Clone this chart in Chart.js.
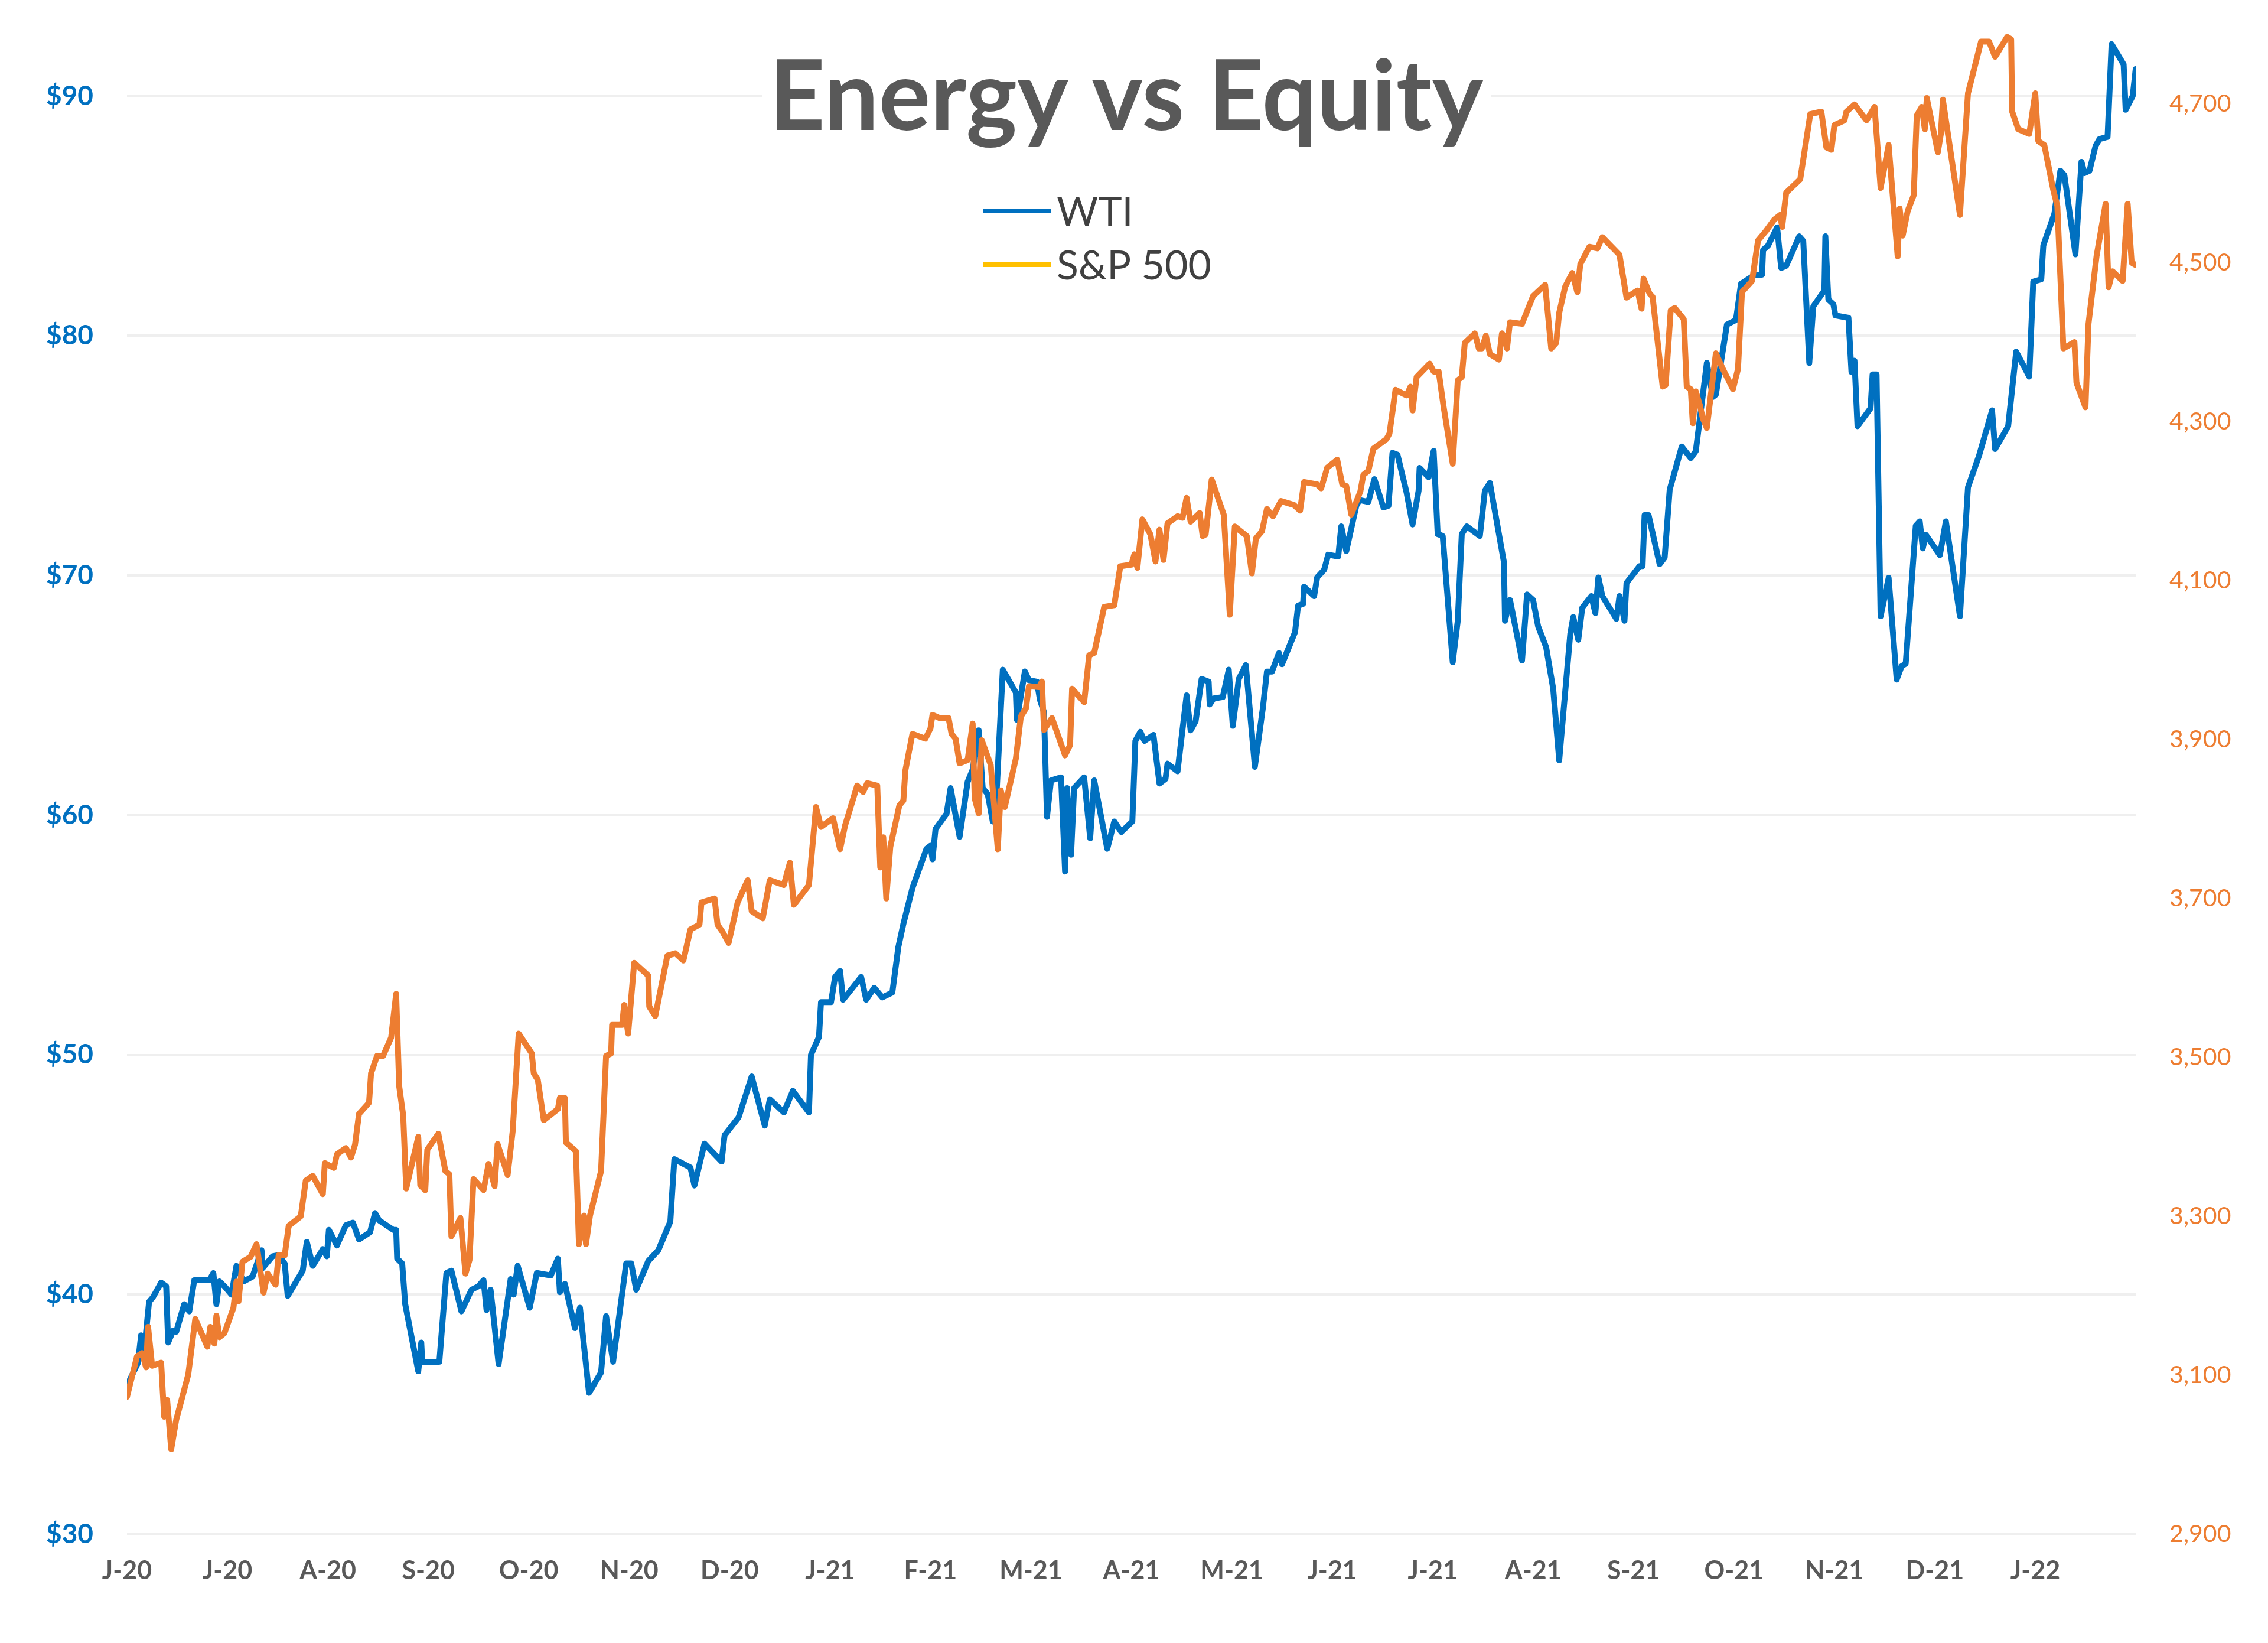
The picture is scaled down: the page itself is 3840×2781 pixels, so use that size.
<!DOCTYPE html>
<html>
<head>
<meta charset="utf-8">
<script src="https://cdn.jsdelivr.net/npm/chart.js@4.4.1/dist/chart.umd.min.js"></script>
<style>
  html, body { margin: 0; padding: 0; background: #ffffff; }
  #chart { position: relative; width: 3840px; height: 2781px; }
</style>
</head>
<body>
<div id="chart"><canvas id="c"></canvas></div>
<script>
// month labels along the bottom (one per month, starting June 2020)
const monthLabels = ['J-20', 'J-20', 'A-20', 'S-20', 'O-20', 'N-20', 'D-20', 'J-21', 'F-21', 'M-21',
                     'A-21', 'M-21', 'J-21', 'J-21', 'A-21', 'S-21', 'O-21', 'N-21', 'D-21', 'J-22'];
const wtiTicks = [30, 40, 50, 60, 70, 80, 90];
const spxTicks = [2900, 3100, 3300, 3500, 3700, 3900, 4100, 4300, 4500, 4700];

// WTI, $ per barrel (month position since Jun-20, price)
const wtiMonth = [0.00, 0.11, 0.14, 0.17, 0.22, 0.26, 0.34, 0.39, 0.41, 0.46, 0.49, 0.57, 0.62, 0.67, 0.82, 0.86, 0.89, 0.92, 0.97, 1.04,
  1.09, 1.16, 1.25, 1.34, 1.35, 1.45, 1.51, 1.57, 1.60, 1.75, 1.79, 1.85, 1.95, 1.99, 2.01, 2.09, 2.18, 2.25, 2.31, 2.42,
  2.47, 2.51, 2.65, 2.68, 2.69, 2.74, 2.77, 2.90, 2.93, 2.94, 3.11, 3.18, 3.23, 3.33, 3.43, 3.50, 3.55, 3.58, 3.62, 3.64,
  3.70, 3.82, 3.85, 3.89, 4.01, 4.08, 4.22, 4.29, 4.31, 4.36, 4.46, 4.51, 4.60, 4.72, 4.77, 4.84, 4.97, 5.02, 5.07, 5.19,
  5.29, 5.41, 5.45, 5.61, 5.65, 5.75, 5.92, 5.95, 6.09, 6.22, 6.35, 6.40, 6.54, 6.63, 6.79, 6.81, 6.89, 6.91, 7.01, 7.05,
  7.10, 7.13, 7.31, 7.36, 7.44, 7.52, 7.62, 7.68, 7.73, 7.82, 7.96, 8.00, 8.02, 8.05, 8.16, 8.20, 8.29, 8.37, 8.42, 8.48,
  8.52, 8.57, 8.62, 8.66, 8.72, 8.85, 8.86, 8.94, 8.98, 9.06, 9.09, 9.13, 9.16, 9.20, 9.30, 9.34, 9.36, 9.40, 9.43, 9.53,
  9.59, 9.63, 9.76, 9.83, 9.90, 10.01, 10.04, 10.09, 10.13, 10.22, 10.28, 10.34, 10.36, 10.46, 10.55, 10.59, 10.64, 10.70, 10.77, 10.78,
  10.82, 10.91, 10.97, 11.01, 11.07, 11.14, 11.23, 11.31, 11.35, 11.40, 11.47, 11.50, 11.63, 11.66, 11.71, 11.72, 11.82, 11.85, 11.92, 11.96,
  12.06, 12.09, 12.14, 12.24, 12.27, 12.36, 12.42, 12.51, 12.56, 12.60, 12.65, 12.74, 12.80, 12.86, 12.87, 12.96, 13.01, 13.05, 13.10, 13.20,
  13.25, 13.29, 13.34, 13.47, 13.52, 13.57, 13.71, 13.72, 13.77, 13.89, 13.94, 14.00, 14.05, 14.13, 14.20, 14.26, 14.37, 14.40, 14.45, 14.49,
  14.58, 14.62, 14.65, 14.69, 14.83, 14.86, 14.91, 14.93, 15.06, 15.09, 15.11, 15.15, 15.26, 15.31, 15.36, 15.48, 15.57, 15.62, 15.73, 15.79,
  15.82, 15.93, 16.02, 16.07, 16.21, 16.28, 16.29, 16.34, 16.43, 16.47, 16.52, 16.65, 16.69, 16.75, 16.79, 16.90, 16.91, 16.94, 16.99, 17.01,
  17.14, 17.17, 17.20, 17.23, 17.36, 17.38, 17.42, 17.46, 17.54, 17.62, 17.67, 17.71, 17.81, 17.85, 17.88, 17.91, 18.05, 18.11, 18.25, 18.33,
  18.44, 18.57, 18.60, 18.73, 18.81, 18.94, 18.98, 19.06, 19.08, 19.19, 19.25, 19.29, 19.40, 19.46, 19.49, 19.54, 19.60, 19.64, 19.72, 19.76,
  19.88, 19.90, 19.97, 20.00];
const wtiPrice = [36.20, 37.16, 38.30, 37.60, 39.70, 39.90, 40.50, 40.35, 38.00, 38.50, 38.45, 39.60, 39.30, 40.60, 40.60, 40.90, 39.60, 40.55, 40.35, 40.00,
  41.20, 40.55, 40.75, 41.85, 41.10, 41.60, 41.65, 41.30, 39.95, 41.00, 42.20, 41.20, 41.90, 41.60, 42.70, 42.05, 42.90, 43.00, 42.30, 42.60,
  43.40, 43.10, 42.70, 42.70, 41.50, 41.30, 39.60, 36.80, 38.00, 37.20, 37.20, 40.90, 41.00, 39.30, 40.20, 40.35, 40.60, 39.35, 40.20, 39.45,
  37.10, 40.65, 40.00, 41.20, 39.45, 40.90, 40.80, 41.50, 40.10, 40.45, 38.60, 39.45, 35.90, 36.75, 39.10, 37.20, 41.30, 41.30, 40.20, 41.40,
  41.85, 43.05, 45.65, 45.30, 44.55, 46.30, 45.55, 46.65, 47.40, 49.10, 47.05, 48.15, 47.60, 48.50, 47.60, 50.00, 50.75, 52.20, 52.20, 53.25,
  53.50, 52.30, 53.25, 52.30, 52.80, 52.40, 52.60, 54.50, 55.46, 56.96, 58.60, 58.73, 58.16, 59.42, 60.06, 61.13, 59.10, 61.39, 61.90, 63.54,
  61.13, 60.88, 59.74, 61.07, 66.07, 65.12, 63.98, 66.00, 65.63, 65.57, 64.81, 64.30, 59.93, 61.45, 61.58, 57.65, 61.13, 58.35, 61.13, 61.58,
  59.04, 61.45, 58.60, 59.74, 59.30, 59.74, 63.10, 63.48, 63.10, 63.35, 61.32, 61.51, 62.15, 61.83, 65.00, 63.54, 63.92, 65.69, 65.57, 64.62,
  64.87, 64.93, 66.07, 63.73, 65.69, 66.26, 62.02, 64.49, 65.99, 65.99, 66.77, 66.30, 67.64, 68.74, 68.82, 69.53, 69.14, 69.92, 70.24, 70.87,
  70.79, 72.05, 71.02, 72.91, 73.15, 73.07, 74.02, 72.84, 72.91, 75.12, 75.04, 73.47, 72.13, 73.54, 74.49, 74.10, 75.20, 71.73, 71.65, 66.38,
  68.11, 71.73, 72.05, 71.65, 73.54, 73.86, 70.55, 68.11, 68.98, 66.46, 69.21, 68.98, 67.88, 67.01, 65.28, 62.29, 67.56, 68.27, 67.32, 68.66,
  69.14, 68.43, 69.92, 69.14, 68.19, 69.14, 68.11, 69.69, 70.39, 70.39, 72.52, 72.52, 70.47, 70.75, 73.58, 75.38, 74.90, 75.19, 78.87, 77.45,
  77.55, 80.47, 80.66, 82.17, 82.55, 82.55, 83.58, 83.77, 84.53, 82.83, 82.92, 84.15, 83.96, 78.87, 81.23, 81.89, 84.15, 81.51, 81.32, 80.85,
  80.75, 78.49, 78.96, 76.23, 76.98, 78.39, 78.39, 68.30, 69.90, 65.66, 66.22, 66.32, 72.07, 72.26, 71.13, 71.70, 70.85, 72.26, 68.30, 73.68,
  75.00, 76.89, 75.28, 76.23, 79.34, 78.30, 82.26, 82.36, 83.77, 85.09, 86.89, 86.70, 83.40, 87.26, 86.79, 86.89, 87.92, 88.21, 88.30, 92.17,
  91.32, 89.43, 90.00, 91.13];

// S&P 500 index level (month position since Jun-20, level)
const spxMonth = [0.00, 0.10, 0.15, 0.19, 0.21, 0.25, 0.34, 0.37, 0.40, 0.44, 0.49, 0.61, 0.68, 0.80, 0.83, 0.87, 0.89, 0.92, 0.97, 1.06,
  1.09, 1.11, 1.15, 1.23, 1.29, 1.36, 1.40, 1.48, 1.51, 1.57, 1.61, 1.73, 1.78, 1.85, 1.95, 1.97, 2.06, 2.09, 2.18, 2.23,
  2.27, 2.31, 2.41, 2.43, 2.49, 2.55, 2.63, 2.68, 2.71, 2.75, 2.78, 2.90, 2.92, 2.97, 2.99, 3.10, 3.17, 3.21, 3.23, 3.32,
  3.37, 3.41, 3.45, 3.55, 3.60, 3.66, 3.69, 3.79, 3.84, 3.90, 4.03, 4.05, 4.09, 4.15, 4.29, 4.31, 4.36, 4.37, 4.47, 4.50,
  4.55, 4.57, 4.61, 4.72, 4.77, 4.82, 4.83, 4.93, 4.95, 4.99, 5.05, 5.19, 5.20, 5.26, 5.38, 5.46, 5.54, 5.61, 5.70, 5.72,
  5.85, 5.88, 5.93, 5.99, 6.08, 6.13, 6.18, 6.22, 6.33, 6.40, 6.54, 6.60, 6.64, 6.79, 6.86, 6.91, 7.03, 7.10, 7.15, 7.27,
  7.33, 7.37, 7.47, 7.50, 7.53, 7.56, 7.60, 7.69, 7.73, 7.75, 7.82, 7.95, 8.00, 8.02, 8.09, 8.18, 8.21, 8.25, 8.29, 8.37,
  8.42, 8.44, 8.48, 8.51, 8.60, 8.67, 8.70, 8.74, 8.85, 8.90, 8.95, 8.98, 9.08, 9.11, 9.13, 9.21, 9.34, 9.39, 9.41, 9.53,
  9.58, 9.63, 9.73, 9.83, 9.89, 10.00, 10.03, 10.06, 10.11, 10.19, 10.24, 10.28, 10.32, 10.36, 10.46, 10.51, 10.55, 10.59, 10.68, 10.71,
  10.74, 10.80, 10.92, 10.98, 11.03, 11.15, 11.20, 11.24, 11.30, 11.35, 11.41, 11.49, 11.62, 11.68, 11.72, 11.85, 11.89, 11.95, 12.05, 12.10,
  12.14, 12.19, 12.28, 12.31, 12.36, 12.41, 12.54, 12.57, 12.63, 12.74, 12.78, 12.80, 12.84, 12.97, 13.01, 13.06, 13.11, 13.20, 13.25, 13.29,
  13.32, 13.42, 13.46, 13.49, 13.53, 13.57, 13.66, 13.69, 13.72, 13.74, 13.77, 13.89, 14.00, 14.12, 14.18, 14.23, 14.26, 14.32, 14.39, 14.44,
  14.47, 14.56, 14.64, 14.69, 14.86, 14.93, 15.04, 15.08, 15.10, 15.16, 15.19, 15.29, 15.32, 15.37, 15.41, 15.50, 15.53, 15.57, 15.59, 15.62,
  15.66, 15.69, 15.73, 15.82, 15.89, 15.99, 16.04, 16.08, 16.18, 16.24, 16.32, 16.40, 16.46, 16.48, 16.52, 16.66, 16.76, 16.87, 16.92, 16.97,
  17.00, 17.10, 17.12, 17.20, 17.32, 17.40, 17.46, 17.54, 17.63, 17.65, 17.68, 17.73, 17.79, 17.82, 17.87, 17.90, 17.92, 18.03, 18.06, 18.08,
  18.25, 18.33, 18.46, 18.54, 18.60, 18.72, 18.76, 18.77, 18.83, 18.94, 19.00, 19.03, 19.09, 19.18, 19.22, 19.28, 19.39, 19.41, 19.50, 19.53,
  19.61, 19.70, 19.73, 19.77, 19.87, 19.92, 19.96, 20.00];
const spxLevel = [3073, 3124, 3128, 3110, 3161, 3112, 3116, 3048, 3069, 3007, 3044, 3101, 3171, 3136, 3161, 3140, 3175, 3148, 3153, 3185,
  3218, 3193, 3243, 3249, 3265, 3204, 3228, 3214, 3251, 3251, 3288, 3300, 3345, 3351, 3328, 3367, 3361, 3378, 3386, 3374,
  3390, 3429, 3443, 3480, 3502, 3502, 3525, 3580, 3464, 3427, 3335, 3400, 3339, 3333, 3384, 3404, 3357, 3353, 3275, 3298,
  3228, 3245, 3347, 3333, 3366, 3338, 3391, 3352, 3407, 3530, 3505, 3480, 3472, 3421, 3435, 3449, 3449, 3393, 3382, 3265,
  3301, 3265, 3301, 3357, 3502, 3505, 3541, 3541, 3566, 3530, 3619, 3603, 3564, 3552, 3628, 3631, 3622, 3661, 3667, 3695,
  3700, 3667, 3658, 3644, 3695, 3709, 3723, 3684, 3675, 3723, 3717, 3745, 3692, 3717, 3815, 3790, 3801, 3762, 3792, 3842,
  3834, 3845, 3842, 3739, 3777, 3700, 3765, 3817, 3823, 3861, 3907, 3901, 3914, 3931, 3927, 3927, 3907, 3901, 3870, 3874,
  3920, 3826, 3807, 3899, 3868, 3762, 3836, 3815, 3876, 3929, 3939, 3967, 3966, 3973, 3912, 3927, 3880, 3893, 3964, 3947,
  4006, 4009, 4067, 4069, 4118, 4120, 4133, 4116, 4177, 4158, 4124, 4164, 4126, 4172, 4181, 4179, 4204, 4174, 4185, 4156,
  4158, 4227, 4183, 4057, 4168, 4156, 4109, 4153, 4162, 4190, 4181, 4200, 4195, 4188, 4224, 4221, 4216, 4242, 4252, 4221,
  4219, 4183, 4212, 4233, 4238, 4266, 4278, 4285, 4340, 4333, 4344, 4314, 4356, 4373, 4363, 4363, 4318, 4247, 4352, 4356,
  4399, 4411, 4392, 4392, 4408, 4385, 4378, 4411, 4406, 4392, 4425, 4423, 4458, 4472, 4392, 4399, 4437, 4470, 4487, 4463,
  4498, 4520, 4518, 4532, 4510, 4456, 4465, 4442, 4480, 4461, 4457, 4344, 4346, 4440, 4443, 4429, 4344, 4341, 4298, 4338,
  4321, 4304, 4292, 4386, 4366, 4341, 4366, 4463, 4477, 4528, 4540, 4554, 4560, 4545, 4588, 4605, 4687, 4690, 4645, 4642,
  4673, 4679, 4690, 4699, 4679, 4696, 4594, 4648, 4508, 4568, 4534, 4565, 4585, 4685, 4696, 4668, 4707, 4639, 4662, 4705,
  4560, 4713, 4778, 4778, 4759, 4784, 4781, 4690, 4668, 4662, 4713, 4653, 4648, 4591, 4571, 4392, 4400, 4349, 4318, 4423,
  4508, 4574, 4469, 4489, 4477, 4574, 4500, 4497];

const FONT = 'Lato, "Open Sans", sans-serif';

const toPoints = (xs, ys) => xs.map((m, i) => ({ x: m, y: ys[i] }));

// the y axes reserve room for half a label above the top tick; the plot area here runs higher
const noVerticalPad = (axis) => { axis.paddingTop = 0; axis.paddingBottom = 0; };

// title + stacked legend drawn over the plot area, like the original
const overlay = {
  id: 'overlay',
  afterDraw(chart) {
    const ctx = chart.ctx;
    ctx.save();
    ctx.fillStyle = '#ffffff';
    ctx.fillRect(1290, 85, 1235, 180);
    ctx.fillStyle = '#595959';
    ctx.font = 'bold 164px ' + FONT;
    ctx.textAlign = 'center';
    ctx.textBaseline = 'alphabetic';
    ctx.fillText('Energy vs Equity', 1907, 220);

    ctx.font = '68px ' + FONT;
    ctx.textAlign = 'left';
    chart.data.datasets.forEach((ds, i) => {
      const y = 357 + i * 91;
      ctx.strokeStyle = ds.legendColor;
      ctx.lineWidth = 8;
      ctx.beginPath();
      ctx.moveTo(1664, y);
      ctx.lineTo(1779, y);
      ctx.stroke();
      ctx.fillStyle = '#404040';
      ctx.fillText(ds.label, 1789, y + 25);
    });
    ctx.restore();
  }
};

const chart = new Chart(document.getElementById('c'), {
  type: 'line',
  data: {
    datasets: [
      {
        label: 'WTI',
        data: toPoints(wtiMonth, wtiPrice),
        yAxisID: 'y',
        borderColor: '#0070C0',
        legendColor: '#0070C0',
        borderWidth: 10,
        order: 1
      },
      {
        label: 'S&P 500',
        data: toPoints(spxMonth, spxLevel),
        yAxisID: 'y1',
        borderColor: '#ED7D31',
        legendColor: '#FFC000',
        borderWidth: 10,
        order: 0
      }
    ]
  },
  options: {
    responsive: true,
    maintainAspectRatio: false,
    devicePixelRatio: 1,
    animation: false,
    layout: { padding: { top: 41, left: 0, right: 0, bottom: 0 } },
    elements: {
      point: { radius: 0 },
      line: { tension: 0, borderJoinStyle: 'round', borderCapStyle: 'round' }
    },
    plugins: {
      legend: { display: false },
      tooltip: { enabled: false },
      title: { display: false }
    },
    scales: {
      x: {
        type: 'linear',
        min: 0,
        max: 20,
        grid: { display: false },
        border: { display: false },
        afterBuildTicks: (axis) => { axis.ticks = monthLabels.map((_, i) => ({ value: i })); },
        afterFit: (axis) => { axis.height = 184; },
        ticks: {
          autoSkip: false,
          maxRotation: 0,
          padding: 28,
          color: '#595959',
          font: { family: FONT, size: 43, weight: 'bold' },
          callback: (v) => monthLabels[v]
        }
      },
      y: {
        position: 'left',
        min: 30,
        max: 93,
        afterBuildTicks: (axis) => { axis.ticks = wtiTicks.map(v => ({ value: v })); },
        afterFit: (axis) => { axis.width = 215; noVerticalPad(axis); },
        grid: { color: '#EFEFEF', lineWidth: 4, drawTicks: false },
        border: { display: false },
        ticks: {
          padding: 57,
          color: '#0070C0',
          font: { family: FONT, size: 46, weight: 'bold' },
          callback: (v) => '$' + v
        }
      },
      y1: {
        position: 'right',
        min: 2900,
        max: 4800,
        afterBuildTicks: (axis) => { axis.ticks = spxTicks.map(v => ({ value: v })); },
        afterFit: (axis) => { axis.width = 224; noVerticalPad(axis); },
        grid: { display: false, drawTicks: false },
        border: { display: false },
        ticks: {
          padding: 57,
          color: '#ED7D31',
          font: { family: FONT, size: 41 },
          callback: (v) => v.toLocaleString('en-US')
        }
      }
    }
  },
  plugins: [overlay]
});
</script>
</body>
</html>
